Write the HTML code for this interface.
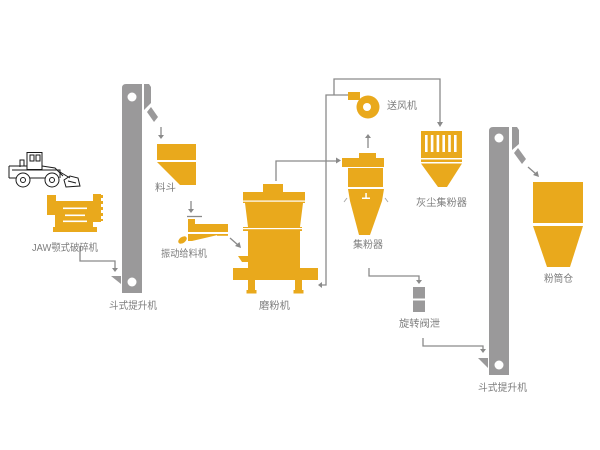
<!DOCTYPE html>
<html><head><meta charset="utf-8"><style>
html,body{margin:0;padding:0;background:#fff;}
svg{display:block;}
text{font-family:"Liberation Sans","Noto Sans CJK SC",sans-serif;font-size:10px;fill:#7d7d7d;}
</style></head><body>
<svg width="600" height="450" viewBox="0 0 600 450" xmlns="http://www.w3.org/2000/svg">
<g fill="none" stroke="#1a1a1a" stroke-width="1">
  <!-- truck -->
  <rect x="27" y="152.5" width="15" height="17"/>
  <rect x="30" y="155" width="4" height="6"/>
  <rect x="36" y="155" width="4" height="6"/>
  <path d="M9,166 H27 M9,166 V178 M12,170 H60 V178 M9,178 H16 M30,178 H45 M60,172 L70,178"/>
  <path d="M20,167 V160 H24 V166"/>
  <path d="M42,166 L55,168 L63,176"/>
  <circle cx="23" cy="180" r="7"/>
  <circle cx="23" cy="180" r="2.5"/>
  <circle cx="52" cy="180" r="7"/>
  <circle cx="52" cy="180" r="2.5"/>
  <path d="M64,180 L70,176 L78,178 L80,186 L66,187 Z"/>
  <path d="M68,181 L76,183"/>
</g>
<g fill="#E9A91C">
  <!-- crusher -->
  <rect x="47" y="195" width="9" height="20"/>
  <rect x="56" y="201" width="37" height="4"/>
  <rect x="55" y="205" width="38" height="22"/>
  <rect x="53" y="227" width="44" height="5"/>
  <rect x="93" y="194" width="8" height="28"/>
  <path d="M101,195 h2 v3 h-2 z M101,201 h2 v3 h-2 z M101,207 h2 v3 h-2 z M101,213 h2 v3 h-2 z M101,219 h2 v2 h-2 z"/>
</g>
<g fill="#fff">
  <rect x="63" y="207.5" width="24" height="1.6"/>
  <rect x="65" y="214.5" width="20" height="1.6"/>
  <rect x="63" y="220.5" width="24" height="1.6"/>
</g>

<!-- left elevator -->
<g fill="#9a999a">
  <path d="M122,88 Q122,84 126,84 H142 V293 H122 Z"/>
  <polygon points="144,84 149,84 151,87 151,103 144,110"/>
  <polygon points="147,112 151,107 158,117 154,122"/>
  <polygon points="111,276 121,276 121,284"/>
</g>
<circle cx="132" cy="97" r="4.5" fill="#fff"/>
<circle cx="132" cy="282" r="4.5" fill="#fff"/>

<!-- connectors -->
<g fill="none" stroke="#8a8a8a" stroke-width="1.3">
  <path d="M161,127 V136"/>
  <path d="M191,201 V210"/>
  <path d="M187,216.5 H202"/>
  <path d="M230,238 L238,245"/>
  <path d="M80,246 V261 H115 V269"/>
  <path d="M276,181 V161 H338"/>
  <path d="M348,95 H326 V285 H321"/>
  <path d="M334,95 V79 H440 V123"/>
  <path d="M368,148 V137"/>
  <path d="M369,268 V276 H419 V281"/>
  <path d="M423,338 V346 H483 V350"/>
  <path d="M528,167 L536,174"/>
</g>
<g fill="#8a8a8a">
  <polygon points="158,135 164,135 161,139"/>
  <polygon points="188,209 194,209 191,213"/>
  <polygon points="235,246 239.5,242 241,248"/>
  <polygon points="112,268 118,268 115,272"/>
  <polygon points="336,157.5 336,163.5 341,160.5"/>
  <polygon points="322,282 322,288 318,285"/>
  <polygon points="437,122 443,122 440,127"/>
  <polygon points="365,138 371,138 368,134"/>
  <polygon points="416,280 422,280 419,284"/>
  <polygon points="480,349 486,349 483,353"/>
  <polygon points="533,175 537.5,171 539,177"/>
</g>

<!-- hopper -->
<g fill="#E9A91C">
  <rect x="157" y="144" width="39" height="16"/>
  <polygon points="157,162 196,162 196,185 180,185"/>
  <!-- feeder -->
  <rect x="188" y="219" width="7" height="13"/>
  <rect x="188" y="224" width="40" height="8"/>
  <polygon points="188,234 222,234 192,241 188,241"/>
  <rect x="217" y="234" width="11" height="1.8"/>
  <ellipse cx="182.5" cy="240" rx="4.8" ry="3" transform="rotate(-35 182.5 240)"/>
</g>

<!-- mill -->
<g fill="#E9A91C">
  <rect x="263" y="184" width="20" height="8"/>
  <rect x="243" y="192" width="62" height="11"/>
  <polygon points="245,203 303,203 300,227 248,227"/>
  <rect x="243" y="227" width="59" height="4"/>
  <rect x="248" y="231" width="52" height="37"/>
  <polygon points="238,256 248,256 248,262 242,262"/>
  <rect x="233" y="268" width="85" height="12"/>
  <rect x="248" y="280" width="7" height="11"/>
  <rect x="246.5" y="290" width="10" height="3.5"/>
  <rect x="295" y="280" width="7" height="11"/>
  <rect x="293.5" y="290" width="10" height="3.5"/>
</g>
<g fill="#fff">
  <rect x="243" y="200.5" width="62" height="1.2"/>
  <rect x="243" y="228" width="59" height="1.2"/>
</g>

<!-- fan -->
<g fill="#E9A91C">
  <rect x="348" y="92" width="12" height="8"/>
  <circle cx="368" cy="107" r="11.5"/>
</g>
<circle cx="367" cy="107" r="4" fill="#fff"/>

<!-- cyclone -->
<g fill="#E9A91C">
  <rect x="359" y="153" width="17" height="5"/>
  <rect x="342" y="158" width="42" height="9"/>
  <rect x="348" y="168" width="35" height="19"/>
  <polygon points="348,189 384,189 382,201 370,235 359,235 350,201"/>
</g>
<g fill="#fff">
  <rect x="362" y="197.5" width="8" height="1.5"/>
  <rect x="365.3" y="193" width="1.5" height="5"/>
</g>
<g stroke="#aaa" stroke-width="1">
  <path d="M344,202 L347,198 M388,202 L385,198"/>
</g>

<!-- dust collector -->
<g fill="#E9A91C">
  <rect x="421" y="131" width="41" height="27"/>
  <rect x="421" y="159.5" width="41" height="2.5"/>
  <polygon points="421,163.5 462,163.5 447,187 438,187"/>
</g>
<g fill="#fff">
  <rect x="425" y="135" width="2.6" height="17"/>
  <rect x="430.8" y="135" width="2.6" height="17"/>
  <rect x="436.6" y="135" width="2.6" height="17"/>
  <rect x="442.4" y="135" width="2.6" height="17"/>
  <rect x="448.2" y="135" width="2.6" height="17"/>
  <rect x="454" y="135" width="2.6" height="17"/>
</g>

<!-- rotary valve -->
<g fill="#9a999a">
  <rect x="413" y="287" width="12" height="11.5"/>
  <rect x="413" y="300.5" width="12" height="11.5"/>
</g>

<!-- right elevator -->
<g fill="#9a999a">
  <path d="M489,131 Q489,127 493,127 H509 V375 H489 Z"/>
  <polygon points="512,127 517,127 519,130 519,144 512,150"/>
  <polygon points="514,153 518,148 526,159 522,164"/>
  <polygon points="478,358 488,358 488,368"/>
</g>
<circle cx="499" cy="138" r="4.5" fill="#fff"/>
<circle cx="499" cy="365" r="4.5" fill="#fff"/>

<!-- silo -->
<g fill="#E9A91C">
  <rect x="533" y="182" width="50" height="41"/>
  <polygon points="533,226 583,226 570,267 547,267"/>
</g>

<!-- labels -->
<text x="32" y="251" textLength="66" lengthAdjust="spacingAndGlyphs">JAW颚式破碎机</text>
<text x="109" y="309" textLength="48" lengthAdjust="spacingAndGlyphs">斗式提升机</text>
<text x="155" y="191" textLength="21" lengthAdjust="spacingAndGlyphs">料斗</text>
<text x="161" y="257" textLength="46" lengthAdjust="spacingAndGlyphs">振动给料机</text>
<text x="259" y="309" textLength="31" lengthAdjust="spacingAndGlyphs">磨粉机</text>
<text x="387" y="109" textLength="30" lengthAdjust="spacingAndGlyphs">送风机</text>
<text x="353" y="248" textLength="30" lengthAdjust="spacingAndGlyphs">集粉器</text>
<text x="416" y="206" textLength="51" lengthAdjust="spacingAndGlyphs">灰尘集粉器</text>
<text x="399" y="327" textLength="41" lengthAdjust="spacingAndGlyphs">旋转阀泄</text>
<text x="544" y="282" textLength="29" lengthAdjust="spacingAndGlyphs">粉筒仓</text>
<text x="478" y="391" textLength="49" lengthAdjust="spacingAndGlyphs">斗式提升机</text>
</svg>
</body></html>
